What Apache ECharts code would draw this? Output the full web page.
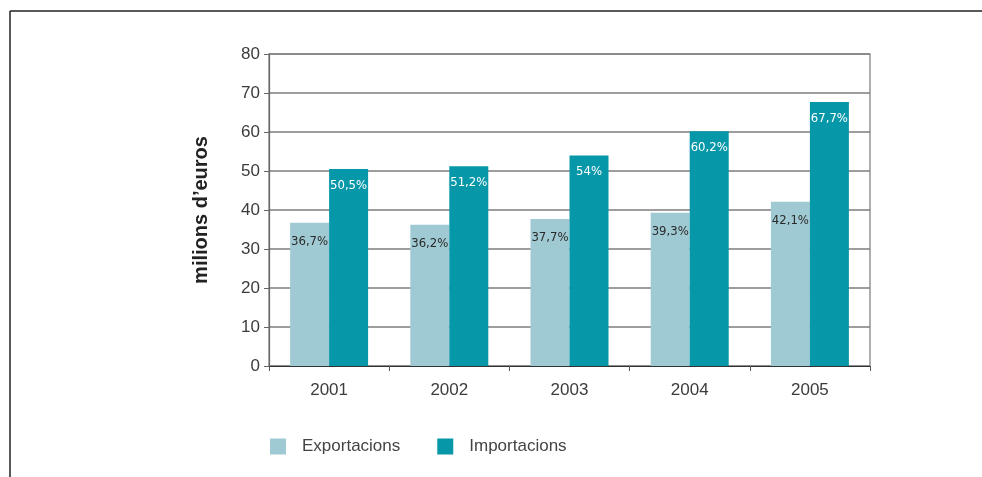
<!DOCTYPE html>
<html>
<head>
<meta charset="utf-8">
<script src="https://cdn.jsdelivr.net/npm/echarts@6/dist/echarts.min.js"></script>
<style>
  html, body { margin: 0; padding: 0; background: #fff; }
  #chart { width: 982px; height: 477px; }
</style>
</head>
<body>
<div id="chart"></div>
<script>
// Comerç exterior, milions d'euros
const years = ['2001', '2002', '2003', '2004', '2005'];
const exportacions = [36.7, 36.2, 37.7, 39.3, 42.1];
const importacions = [50.5, 51.2, 54, 60.2, 67.7];
const yTicks = { min: 0, max: 80, interval: 10 };
const seriesNames = ['Exportacions', 'Importacions'];
const axisTitle = 'milions d\u2019euros';

const fmt = v => String(v).replace('.', ',') + '%';

const chart = echarts.init(document.getElementById('chart'), null, { renderer: 'canvas' });

const baseFont = 'Liberation Sans, Arial, sans-serif';
const narrowFont = 'DejaVu Sans Condensed, Liberation Sans Narrow, sans-serif';

chart.setOption({
  animation: false,
  backgroundColor: '#ffffff',
  grid: {
    left: 269, top: 54, width: 601, height: 312,
    show: true, borderColor: '#7a7a7a', borderWidth: 1.2
  },
  graphic: [
    { type: 'line', shape: { x1: 10, y1: 11, x2: 982, y2: 11 }, style: { stroke: '#222', lineWidth: 1.5 } },
    { type: 'line', shape: { x1: 10, y1: 11, x2: 10, y2: 477 }, style: { stroke: '#222', lineWidth: 1.5 } }
  ],
  legend: {
    left: 265, top: 433,
    itemWidth: 16, itemHeight: 16, itemGap: 37,
    icon: 'rect',
    data: seriesNames,
    textStyle: { fontFamily: baseFont, fontSize: 17, color: '#444', padding: [0, 0, 0, 11] }
  },
  xAxis: {
    type: 'category',
    data: years,
    axisLine: { lineStyle: { color: '#333', width: 1.2 } },
    axisTick: { show: true, length: 5, lineStyle: { color: '#555' } },
    axisLabel: { fontFamily: baseFont, fontSize: 17, color: '#3c3c3c', margin: 16 }
  },
  yAxis: {
    type: 'value',
    min: yTicks.min, max: yTicks.max, interval: yTicks.interval,
    name: axisTitle,
    nameLocation: 'middle',
    nameGap: 58,
    nameRotate: 90,
    nameTextStyle: { fontFamily: baseFont, fontSize: 20, fontWeight: 'bold', color: '#222' },
    axisLine: { show: true, lineStyle: { color: '#666', width: 1.2 } },
    axisTick: { show: true, length: 5, lineStyle: { color: '#666' } },
    axisLabel: { fontFamily: baseFont, fontSize: 17, color: '#3c3c3c', margin: 9 },
    splitLine: { lineStyle: { color: '#7d7d7d', width: 1.5 } }
  },
  series: [
    {
      name: seriesNames[0],
      type: 'bar',
      data: exportacions,
      barWidth: 39,
      barGap: '0%',
      itemStyle: { color: '#a0cad3' },
      label: {
        show: true, position: 'insideTop', distance: 12,
        formatter: p => fmt(p.value),
        fontFamily: narrowFont, fontSize: 13, color: '#2a2a2a'
      }
    },
    {
      name: seriesNames[1],
      type: 'bar',
      data: importacions,
      barWidth: 39,
      barGap: '0%',
      itemStyle: { color: '#0697a9' },
      label: {
        show: true, position: 'insideTop', distance: 10,
        formatter: p => fmt(p.value),
        fontFamily: narrowFont, fontSize: 13, color: '#ffffff'
      }
    }
  ]
});
</script>
</body>
</html>
